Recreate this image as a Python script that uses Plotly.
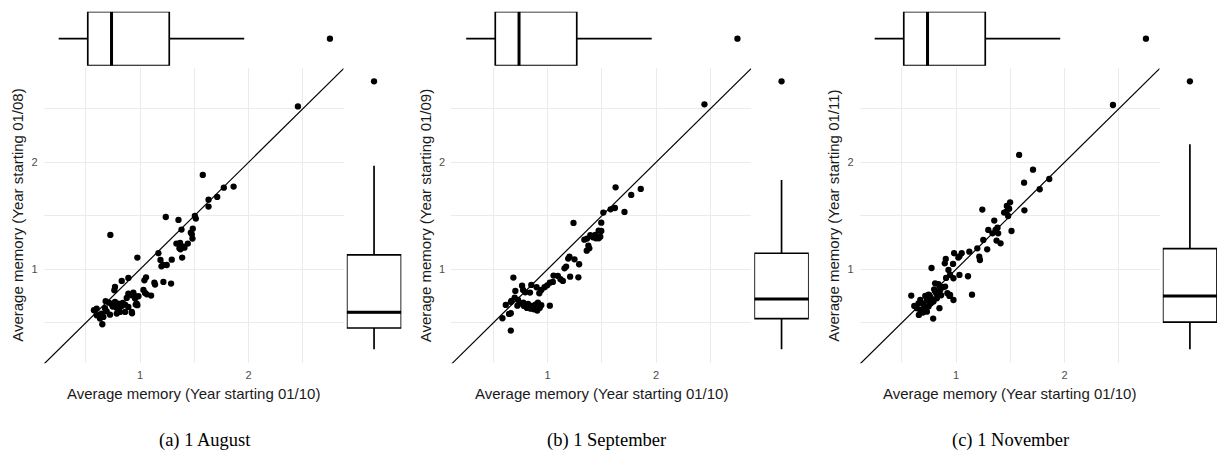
import plotly.graph_objects as go

W, H = 1217, 462

# ---------------- data ----------------
p1_x = [2.455, 1.578, 1.772, 1.862, 1.711, 1.631, 1.631, 1.505, 1.514, 1.237, 1.354, 1.486, 1.468, 1.483,
        1.382, 1.335, 1.369, 1.440, 1.409, 1.372, 1.169, 0.726, 0.975, 1.188, 1.212, 1.197, 1.246, 1.292,
        1.388, 0.892, 0.831, 1.055, 1.040, 1.132, 1.138, 1.215, 1.286, 0.769, 0.763, 0.892, 0.923, 0.938,
        0.985, 0.954, 0.969, 0.975, 1.046, 1.062, 1.102, 0.877, 0.600, 0.575, 0.683, 0.714, 0.738, 0.769,
        0.800, 0.831, 0.862, 0.892, 0.646, 0.662, 0.631, 0.692, 0.723, 0.785, 0.815, 0.862, 0.923, 0.652,
        0.600, 0.622, 0.926, 0.960, 0.840, 0.748, 0.785, 0.677, 0.800, 0.942, 1.031, 1.363, 1.400, 1.477]
p1_y = [2.523, 1.882, 1.763, 1.773, 1.676, 1.651, 1.586, 1.498, 1.474, 1.489, 1.461, 1.380, 1.343, 1.287,
        1.371, 1.240, 1.246, 1.240, 1.202, 1.187, 1.150, 1.321, 1.109, 1.087, 1.040, 1.028, 1.040, 1.090,
        1.109, 0.919, 0.891, 0.925, 0.897, 0.875, 0.857, 0.882, 0.866, 0.835, 0.804, 0.773, 0.757, 0.782,
        0.748, 0.726, 0.679, 0.664, 0.779, 0.766, 0.754, 0.732, 0.632, 0.617, 0.701, 0.688, 0.673, 0.695,
        0.679, 0.657, 0.670, 0.648, 0.586, 0.555, 0.539, 0.607, 0.576, 0.586, 0.601, 0.601, 0.601, 0.486,
        0.570, 0.570, 0.589, 0.670, 0.685, 0.651, 0.639, 0.636, 0.620, 0.760, 0.807, 1.196, 1.212, 1.327]

p2_x = [2.446, 1.627, 1.859, 1.771, 1.709, 1.581, 1.621, 1.514, 1.239, 1.495, 1.471, 1.495, 1.440, 1.486,
        1.471, 1.339, 1.364, 1.394, 1.419, 1.446, 1.376, 1.385, 1.361, 1.202, 1.190, 1.248, 1.171, 1.156,
        1.291, 1.284, 1.208, 1.055, 1.095, 1.141, 1.119, 1.021, 1.049, 0.997, 0.972, 0.924, 0.942, 0.899,
        0.850, 0.765, 0.774, 0.685, 0.703, 0.838, 0.795, 0.697, 0.728, 0.661, 0.615, 0.722, 0.752, 0.783,
        0.820, 0.850, 0.887, 0.911, 0.875, 0.905, 0.942, 0.927, 0.777, 0.810, 0.844, 1.021, 0.645, 0.661,
        0.584, 0.661, 0.667]
p2_y = [2.542, 1.766, 1.751, 1.695, 1.536, 1.561, 1.573, 1.530, 1.433, 1.436, 1.361, 1.358, 1.321, 1.305,
        1.290, 1.277, 1.287, 1.318, 1.299, 1.290, 1.221, 1.196, 1.174, 1.118, 1.100, 1.093, 1.025, 1.009,
        1.047, 0.925, 0.931, 0.941, 0.938, 0.891, 0.907, 0.875, 0.882, 0.850, 0.832, 0.776, 0.807, 0.832,
        0.854, 0.847, 0.807, 0.922, 0.798, 0.782, 0.785, 0.735, 0.713, 0.695, 0.667, 0.660, 0.682, 0.657,
        0.676, 0.657, 0.670, 0.688, 0.626, 0.614, 0.664, 0.639, 0.688, 0.639, 0.632, 0.660, 0.583, 0.589,
        0.542, 0.427, 0.704]

p3_x = [2.446, 1.581, 1.709, 1.627, 1.859, 1.771, 1.498, 1.468, 1.489, 1.443, 1.480, 1.465, 1.630, 1.242,
        1.511, 1.352, 1.382, 1.364, 1.336, 1.297, 1.388, 1.410, 1.373, 1.251, 1.287, 1.196, 1.214, 1.220,
        1.122, 1.052, 1.021, 0.982, 1.031, 0.905, 0.896, 0.972, 0.930, 0.908, 0.976, 0.945, 1.031, 1.110,
        1.147, 0.774, 0.807, 0.838, 0.878, 0.853, 0.899, 0.798, 0.817, 0.862, 0.920, 0.939, 0.976, 0.945,
        0.587, 0.716, 0.746, 0.761, 0.731, 0.777, 0.670, 0.654, 0.700, 0.755, 0.792, 0.615, 0.639, 0.670,
        0.716, 0.746, 0.768, 0.657, 0.731, 0.847, 0.789, 0.694, 0.823]
p3_y = [2.536, 2.069, 1.931, 1.810, 1.844, 1.748, 1.626, 1.592, 1.567, 1.530, 1.498, 1.539, 1.551, 1.558,
        1.358, 1.455, 1.389, 1.368, 1.336, 1.368, 1.336, 1.243, 1.268, 1.274, 1.187, 1.196, 1.118, 1.087,
        1.165, 1.150, 1.109, 1.150, 1.121, 1.097, 1.056, 1.050, 0.994, 0.919, 0.916, 0.947, 0.947, 0.935,
        0.763, 1.012, 0.869, 0.860, 0.832, 0.807, 0.838, 0.813, 0.776, 0.757, 0.776, 0.751, 0.713, 0.760,
        0.754, 0.751, 0.763, 0.745, 0.713, 0.720, 0.713, 0.682, 0.667, 0.676, 0.698, 0.657, 0.636, 0.620,
        0.626, 0.651, 0.682, 0.573, 0.604, 0.636, 0.539, 0.595, 0.729]

# marginal box statistics: [lower whisker, q1, median, q3, upper whisker], outlier
x_box = [0.25, 0.518, 0.737, 1.269, 1.96]
x_outlier = [2.75]
y_boxes = [[0.252, 0.451, 0.598, 1.134, 1.968],
           [0.252, 0.538, 0.722, 1.150, 1.835],
           [0.252, 0.506, 0.750, 1.194, 2.168]]
y_outlier = [2.757]

tick_vals = [0.5, 1, 1.5, 2, 2.5]
tick_text = ["", "1", "", "2", ""]

x_title = "Average memory (Year starting 01/10)"
y_titles = ["Average memory (Year starting 01/08)",
            "Average memory (Year starting 01/09)",
            "Average memory (Year starting 01/11)"]
captions = ["(a) 1 August", "(b) 1 September", "(c) 1 November"]

panels_x = [p1_x, p2_x, p3_x]
panels_y = [p1_y, p2_y, p3_y]

# ---------------- layout geometry (pixels) ----------------
panel_left = [43.5, 451.0, 859.5]
panel_w = 300.0
panel_top, panel_bot = 68.3, 363.3
top_box = (11.7, 65.7)
right_gap, right_w = 3.3, 54.5
caption_cx = [205, 606, 1010]
caption_y = 440

XR = [0.11, 2.875]
YR = [0.121, 2.879]

def fx(p):
    return max(0.0, min(1.0, p / W))

def fy(p):
    return max(0.0, min(1.0, 1 - p / H))

fig = go.Figure()
layout = {}
annotations = []
BLACK = "black"
GRID = "#ebebeb"

for i in range(3):
    n1, n2, n3 = 3 * i + 1, 3 * i + 2, 3 * i + 3
    def ax(n):
        return "" if n == 1 else str(n)
    L = panel_left[i]
    R = L + panel_w
    # scatter axes
    layout["xaxis" + ax(n1)] = dict(domain=[fx(L), fx(R)], range=XR, anchor="y" + ax(n1),
                                    tickvals=tick_vals, ticktext=tick_text, showgrid=True,
                                    gridcolor=GRID, gridwidth=1, zeroline=False, showline=False,
                                    ticks="", ticklabelstandoff=4,
                                    tickfont=dict(size=11, color="#4d4d4d"))
    layout["yaxis" + ax(n1)] = dict(domain=[fy(panel_bot), fy(panel_top)], range=YR, anchor="x" + ax(n1),
                                    tickvals=tick_vals, ticktext=tick_text, showgrid=True,
                                    gridcolor=GRID, gridwidth=1, zeroline=False, showline=False,
                                    ticks="", ticklabelstandoff=5,
                                    tickfont=dict(size=11, color="#4d4d4d"))
    # top marginal axes
    layout["xaxis" + ax(n2)] = dict(domain=[fx(L), fx(R)], range=XR, anchor="y" + ax(n2), visible=False)
    layout["yaxis" + ax(n2)] = dict(domain=[fy(top_box[1]), fy(top_box[0])], range=[-0.5, 0.5],
                                    anchor="x" + ax(n2), visible=False)
    # right marginal axes
    rl = R + right_gap
    rr = min(W, rl + right_w)
    layout["xaxis" + ax(n3)] = dict(domain=[fx(rl), fx(rr)], range=[-0.5, 0.5], anchor="y" + ax(n3), visible=False)
    layout["yaxis" + ax(n3)] = dict(domain=[fy(panel_bot), fy(panel_top)], range=YR, anchor="x" + ax(n3),
                                    visible=False)

    xs, ys = "x" + ax(n1), "y" + ax(n1)
    # identity line
    fig.add_trace(go.Scatter(x=[0, 3], y=[0, 3], mode="lines", line=dict(color=BLACK, width=1.2),
                             xaxis=xs, yaxis=ys, hoverinfo="skip"))
    # points
    fig.add_trace(go.Scatter(x=panels_x[i], y=panels_y[i], mode="markers",
                             marker=dict(color=BLACK, size=6.3), xaxis=xs, yaxis=ys))

    # top marginal box (x data)
    xt, yt = "x" + ax(n2), "y" + ax(n2)
    fig.add_trace(go.Box(orientation="h", y=[0], lowerfence=[x_box[0]], q1=[x_box[1]], median=[x_box[2]],
                         q3=[x_box[3]], upperfence=[x_box[4]], width=1, whiskerwidth=0,
                         fillcolor="white", line=dict(color=BLACK, width=1.7), boxpoints=False,
                         xaxis=xt, yaxis=yt))
    fig.add_trace(go.Scatter(x=[x_box[2], x_box[2]], y=[-0.5, 0.5], mode="lines",
                             line=dict(color=BLACK, width=3), xaxis=xt, yaxis=yt))
    fig.add_trace(go.Scatter(x=x_outlier, y=[0], mode="markers", marker=dict(color=BLACK, size=6.3),
                             xaxis=xt, yaxis=yt, cliponaxis=False))

    # right marginal box (y data)
    b = y_boxes[i]
    xr_, yr_ = "x" + ax(n3), "y" + ax(n3)
    fig.add_trace(go.Box(orientation="v", x=[0], lowerfence=[b[0]], q1=[b[1]], median=[b[2]],
                         q3=[b[3]], upperfence=[b[4]], width=1, whiskerwidth=0,
                         fillcolor="white", line=dict(color=BLACK, width=1.7), boxpoints=False,
                         xaxis=xr_, yaxis=yr_))
    fig.add_trace(go.Scatter(x=[-0.5, 0.5], y=[b[2], b[2]], mode="lines",
                             line=dict(color=BLACK, width=3), xaxis=xr_, yaxis=yr_))
    fig.add_trace(go.Scatter(x=[0], y=y_outlier, mode="markers", marker=dict(color=BLACK, size=6.3),
                             xaxis=xr_, yaxis=yr_, cliponaxis=False))

    # titles
    annotations.append(dict(text=x_title, x=fx((L + R) / 2), y=fy(393), xref="paper", yref="paper",
                            showarrow=False, xanchor="center", yanchor="middle",
                            font=dict(size=15, color="#1a1a1a", family="Liberation Sans")))
    annotations.append(dict(text=y_titles[i], x=fx(L - 25.5), y=fy((panel_top + panel_bot) / 2),
                            xref="paper", yref="paper", showarrow=False, textangle=-90,
                            xanchor="center", yanchor="middle",
                            font=dict(size=15, color="#1a1a1a", family="Liberation Sans")))
    annotations.append(dict(text=captions[i], x=fx(caption_cx[i]), y=fy(caption_y), xref="paper",
                            yref="paper", showarrow=False, xanchor="center", yanchor="middle",
                            font=dict(size=18.5, color="black", family="Liberation Serif")))

fig.update_layout(**layout)
fig.update_layout(width=W, height=H, margin=dict(l=0, r=0, t=0, b=0), showlegend=False,
                  plot_bgcolor="white", paper_bgcolor="white", hovermode=False,
                  font=dict(family="Liberation Sans"), annotations=annotations)

fig.write_html("out.html", config={"displayModeBar": False},
               post_script="document.body.style.margin='0';document.body.style.overflow='hidden';")
